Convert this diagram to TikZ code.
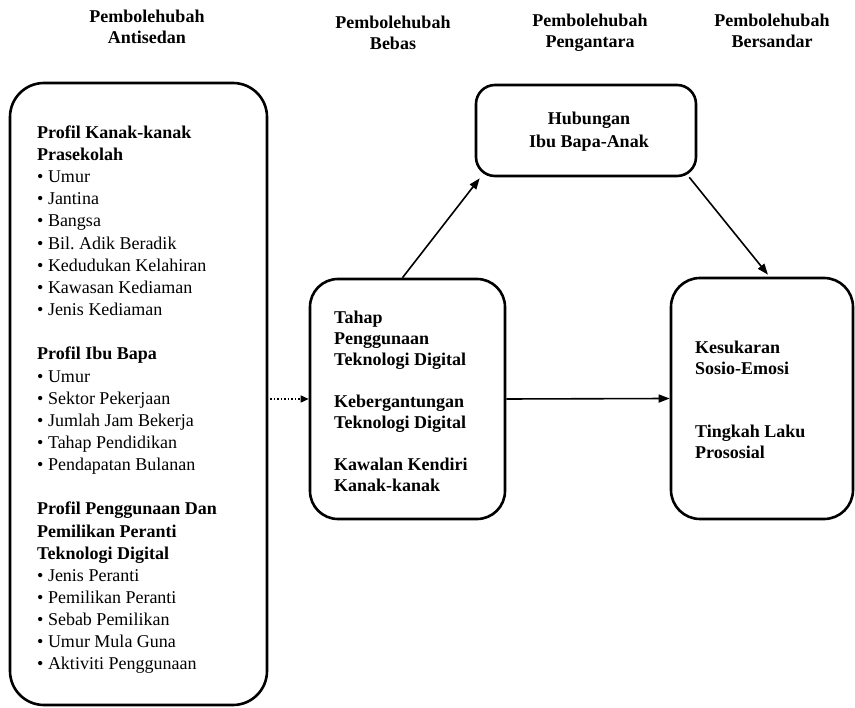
\documentclass[tikz,border=0pt]{standalone}
\usepackage{fontspec}
\setmainfont{Liberation Serif}
\usetikzlibrary{arrows.meta}
\begin{document}
\frenchspacing
\begin{tikzpicture}[x=1pt,y=-1pt,
  boxstyle/.style={draw, line width=2.6pt, rounded corners=#1, inner sep=0pt},
  boxstyle/.default=28pt,
  headstyle/.style={align=center, font=\fontsize{18}{21}\selectfont\bfseries, inner sep=0pt},
  txtstyle/.style={align=left, anchor=north west, inner sep=0pt, font=\fontsize{18}{22.15}\selectfont},
  txtb/.style={align=left, anchor=north west, inner sep=0pt, font=\fontsize{18}{21}\selectfont\bfseries},
  arr/.style={line width=1.6pt, -{Triangle[length=11pt,width=8pt]}}
]
\useasboundingbox (0,0) rectangle (855,708);
% headers
\node[headstyle] (h1) at (147,27) {Pembolehubah\\Antisedan};
\node[headstyle] (h2) at (393,33) {Pembolehubah\\Bebas};
\node[headstyle] (h3) at (590,33) {Pembolehubah\\Pengantara};
\node[headstyle] (h4) at (772,31) {Pembolehubah\\Bersandar};
% boxes
\node[boxstyle=34pt, minimum width=257pt, minimum height=622pt] (left) at (138.5,394) {};
\node[boxstyle=28pt, minimum width=195pt, minimum height=240pt] (mid) at (407.5,399) {};
\node[boxstyle=19pt, minimum width=220pt, minimum height=91pt] (hub) at (586,130.5) {};
\node[boxstyle=29pt, minimum width=182pt, minimum height=241pt] (right) at (762,398.5) {};
% texts
\node[txtstyle] (ltxt) at (37,125.5) {%
\textbf{Profil Kanak-kanak}\\
\textbf{Prasekolah}\\
\textbullet\ Umur\\
\textbullet\ Jantina\\
\textbullet\ Bangsa\\
\textbullet\ Bil. Adik Beradik\\
\textbullet\ Kedudukan Kelahiran\\
\textbullet\ Kawasan Kediaman\\
\textbullet\ Jenis Kediaman\\[22.15pt]
\textbf{Profil Ibu Bapa}\\
\textbullet\ Umur\\
\textbullet\ Sektor Pekerjaan\\
\textbullet\ Jumlah Jam Bekerja\\
\textbullet\ Tahap Pendidikan\\
\textbullet\ Pendapatan Bulanan\\[22.15pt]
\textbf{Profil Penggunaan Dan}\\
\textbf{Pemilikan Peranti}\\
\textbf{Teknologi Digital}\\
\textbullet\ Jenis Peranti\\
\textbullet\ Pemilikan Peranti\\
\textbullet\ Sebab Pemilikan\\
\textbullet\ Umur Mula Guna\\
\textbullet\ Aktiviti Penggunaan};
\node[txtb] (mtxt) at (334,311) {%
Tahap\\
Penggunaan\\
Teknologi Digital\\[21pt]
Kebergantungan\\
Teknologi Digital\\[21pt]
Kawalan Kendiri\\
Kanak-kanak};
\node[txtb] (rtxt) at (695,340.5) {%
Kesukaran\\
Sosio-Emosi\\[42pt]
Tingkah Laku\\
Prososial};
\node[align=center, inner sep=0pt, font=\fontsize{18}{23}\selectfont\bfseries] (htxt) at (589,132) {Hubungan\hspace{10pt}\\Ibu Bapa-Anak};
% connectors
\coordinate (dotstart) at (270,399);
\draw[line width=1.5pt, dotted, -{Triangle[length=8pt,width=7pt]}] (dotstart) -- (mid.west);
\draw[arr] (mid.east) -- (right.west);
\draw[arr] ([shift={(-5,0)}]mid.north) -- ([shift={(5,1)}]hub.south west);
\draw[arr] ([shift={(-8,0)}]hub.south east) -- ([shift={(6,-2)}]right.north);
\end{tikzpicture}
\end{document}
